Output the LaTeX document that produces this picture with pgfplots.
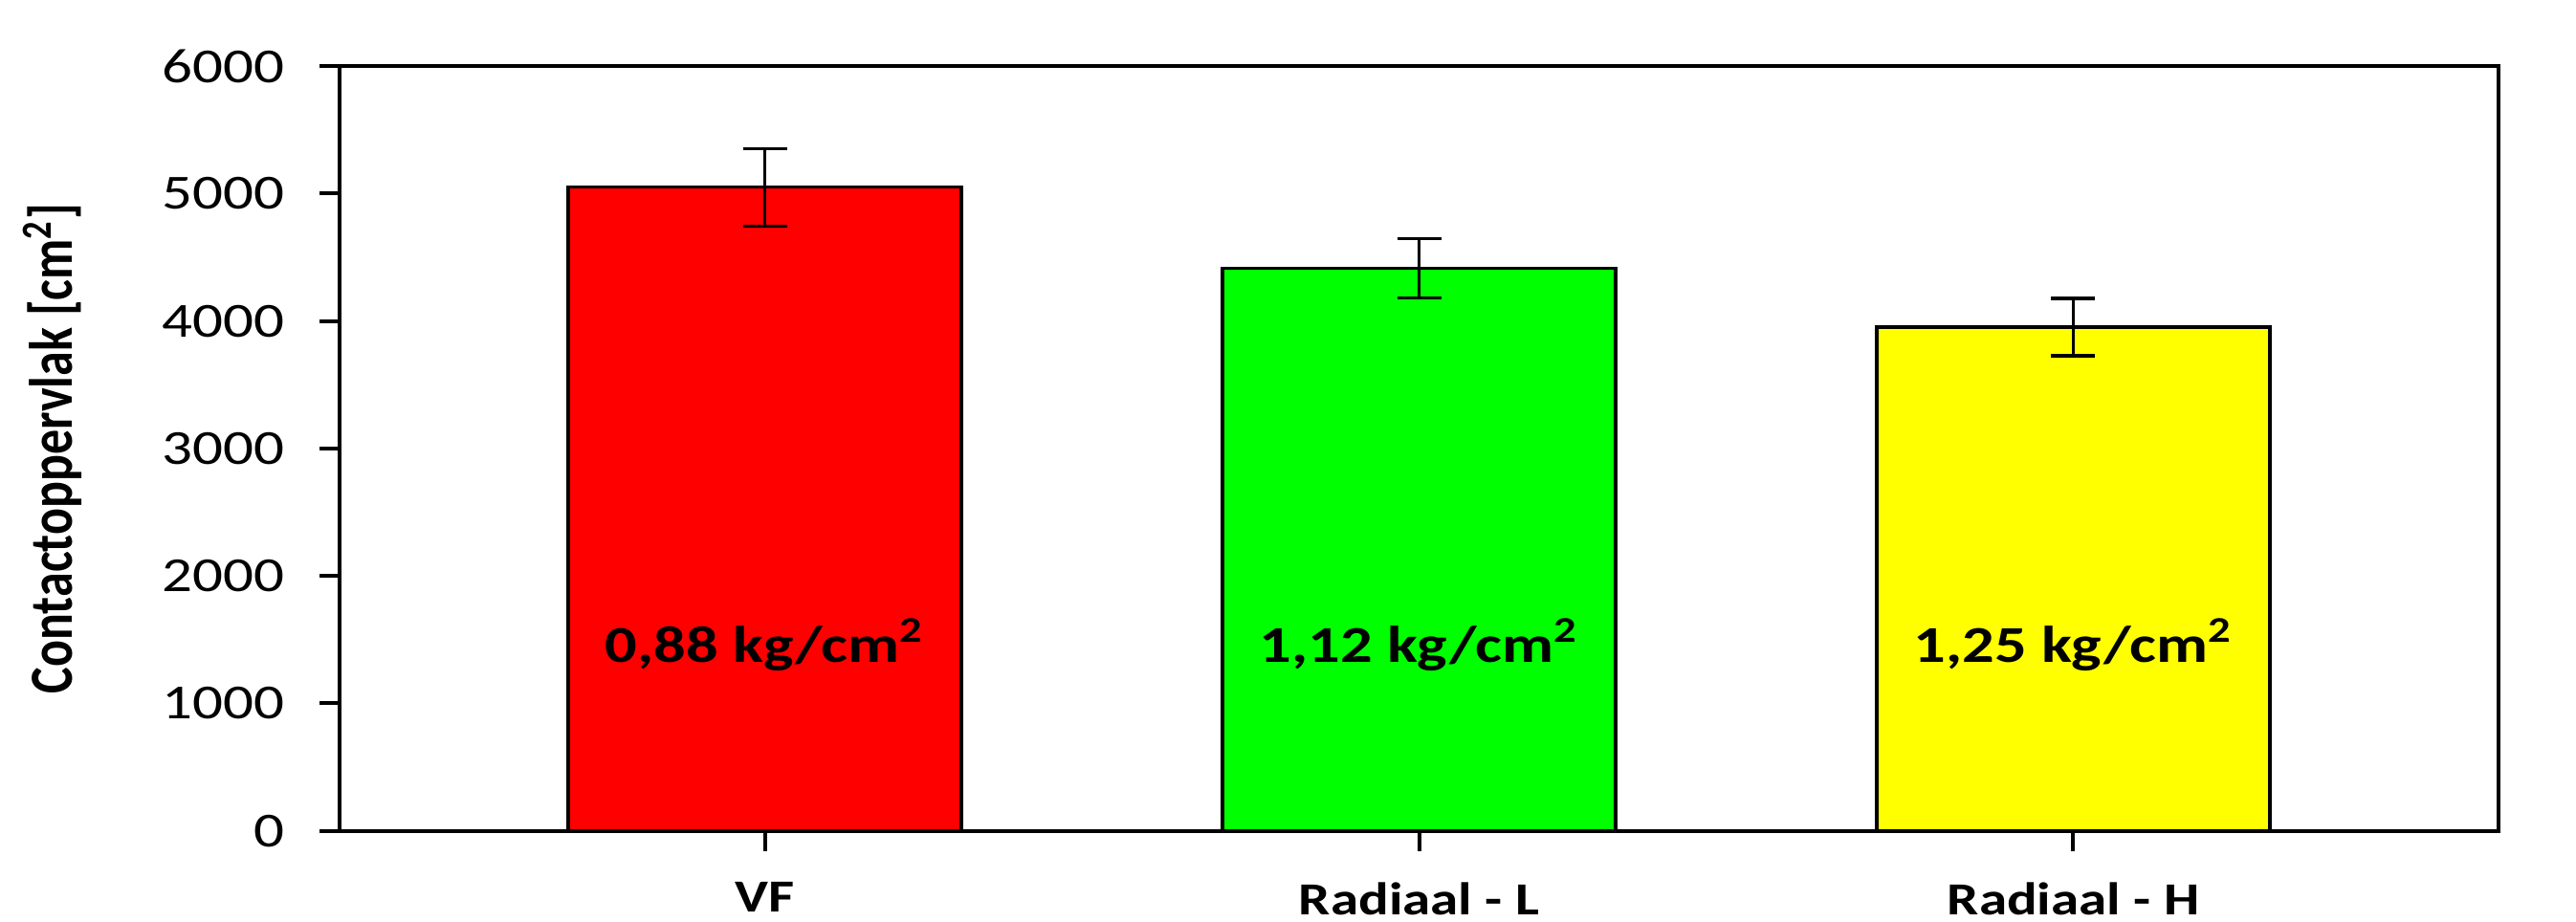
\documentclass[border=0pt]{standalone}
\usepackage{fontspec}
\setmainfont{Carlito}
\usepackage{graphicx}
\usepackage{pgfplots}
\pgfplotsset{compat=1.18}
\newcommand{\sx}[1]{\scalebox{1.23}[1]{#1}}
\definecolor{barred}{RGB}{255,0,0}
\definecolor{bargreen}{RGB}{0,255,0}
\definecolor{baryellow}{RGB}{255,255,0}
\begin{document}
\begin{tikzpicture}
\useasboundingbox (-88.75pt,-23.8pt) rectangle (584.5pt,217.15pt);
\begin{axis}[
  at={(0,0)}, anchor=south west,
  scale only axis, width=564.25pt, height=199.85pt,
  xmin=-0.65, xmax=2.65, ymin=0, ymax=6000,
  xtick={0,1,2},
  xticklabels={\sx{\bfseries VF},\sx{\bfseries Radiaal - L},\sx{\bfseries Radiaal - H}},
  ytick={0,1000,2000,3000,4000,5000,6000},
  yticklabels={\sx{0},\sx{1000},\sx{2000},\sx{3000},\sx{4000},\sx{5000},\sx{6000}},
  tick align=outside, xtick pos=left, ytick pos=left,
  major tick length=5.3pt,
  axis line style={line width=1pt},
  every tick/.style={black, line width=1pt},
  x tick label style={font=\fontsize{12}{14}\selectfont, yshift=-4.7pt},
  y tick label style={font=\fontsize{12.8}{15}\selectfont, xshift=-5.6pt},
  ylabel={\scalebox{1}[1.23]{\bfseries Contactoppervlak [cm\textsuperscript{2}]}},
  ylabel style={at={(axis description cs:-0.1329,0.5)}, anchor=center, font=\fontsize{13}{15}\selectfont},
  clip=false,
]
\addplot[ybar, bar shift=0pt, bar width=102.75pt, fill=barred, draw=black, line width=0.85pt,
  error bars/.cd, y dir=both, y explicit,
  error bar style={line width=0.8pt, black},
  error mark options={rotate=90, line width=0.8pt, mark size=5.75pt, black}]
  coordinates {(0,5050) +- (0,305)};
\addplot[ybar, bar shift=0pt, bar width=102.75pt, fill=bargreen, draw=black, line width=0.85pt,
  error bars/.cd, y dir=both, y explicit,
  error bar style={line width=0.8pt, black},
  error mark options={rotate=90, line width=0.8pt, mark size=5.75pt, black}]
  coordinates {(1,4412) +- (0,232)};
\addplot[ybar, bar shift=0pt, bar width=102.75pt, fill=baryellow, draw=black, line width=0.85pt,
  error bars/.cd, y dir=both, y explicit,
  error bar style={line width=0.8pt, black},
  error mark options={rotate=90, line width=0.8pt, mark size=5.75pt, black}]
  coordinates {(2,3953) +- (0,225)};
\node[anchor=base, font=\fontsize{13.5}{16}\selectfont\bfseries] at (axis cs:0,1325) {\sx{0,88 kg/cm\textsuperscript{2}}};
\node[anchor=base, font=\fontsize{13.5}{16}\selectfont\bfseries] at (axis cs:1,1325) {\sx{1,12 kg/cm\textsuperscript{2}}};
\node[anchor=base, font=\fontsize{13.5}{16}\selectfont\bfseries] at (axis cs:2,1325) {\sx{1,25 kg/cm\textsuperscript{2}}};
\end{axis}
\end{tikzpicture}
\end{document}
